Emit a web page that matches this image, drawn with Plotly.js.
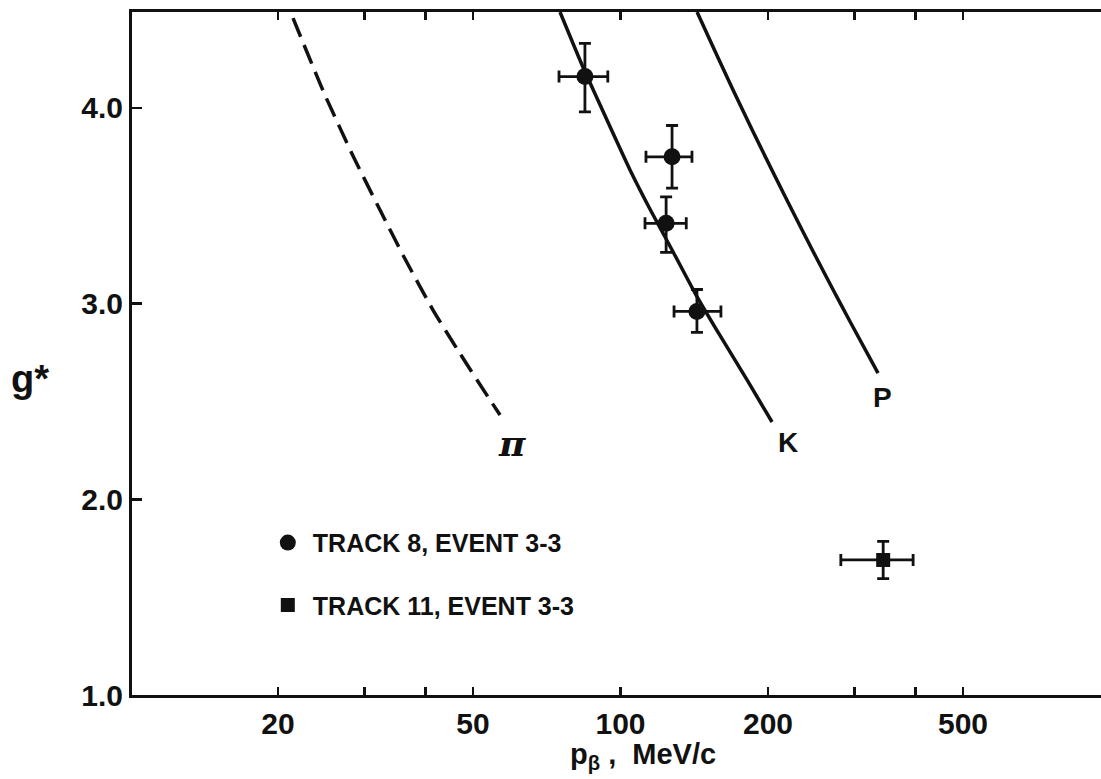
<!DOCTYPE html>
<html>
<head>
<meta charset="utf-8">
<script src="https://cdn.plot.ly/plotly-3.0.1.min.js"></script>
<style>html,body{margin:0;padding:0;background:#fff;}#chart{width:1101px;height:779px;}</style>
</head>
<body>
<div id="chart"></div>
<script>
// Theoretical curves (g* vs p_beta, MeV/c)
const piX = [21.46, 24.83, 28.52, 32.30, 36.15, 41.43, 46.94, 53.66, 56.77];
const piY = [4.459, 4.076, 3.749, 3.478, 3.238, 2.967, 2.748, 2.523, 2.431];
const kX = [75.25, 83.81, 93.84, 104.57, 115.39, 127.42, 141.91, 158.89, 181.22, 203.82];
const kY = [4.490, 4.209, 3.938, 3.683, 3.473, 3.274, 3.054, 2.845, 2.610, 2.395];
const pX = [143.3, 155.5, 169.7, 185.7, 205.1, 225.4, 246.3, 269.7, 295.1, 335.4];
const pY = [4.490, 4.296, 4.091, 3.887, 3.667, 3.463, 3.274, 3.085, 2.901, 2.645];

// Measured points
const track8X = [84.6, 127.4, 123.9, 143.2];
const track8Y = [4.16, 3.75, 3.41, 2.96];
const track8XErrPlus = [9.6, 12.5, 12.3, 17.1];
const track8XErrMinus = [9.7, 14.7, 11.7, 14.6];
const track8YErrPlus = [0.17, 0.16, 0.135, 0.112];
const track8YErrMinus = [0.18, 0.16, 0.148, 0.107];

const track11X = [343.6];
const track11Y = [1.69];
const track11XErrPlus = [51.9];
const track11XErrMinus = [62.0];
const track11YErrPlus = [0.095];
const track11YErrMinus = [0.095];

const seriesNames = ["TRACK 8, EVENT 3-3", "TRACK 11, EVENT 3-3"];

// Curve labels
const curveLabels = ["\u03c0", "K", "P"];
const curveLabelX = [60.1, 219.7, 341.8];
const curveLabelY = [2.288, 2.288, 2.518];

// Axis ticks
const xTickVals = [20, 30, 40, 50, 100, 200, 300, 400, 500];
const xTickText = ["20", "", "", "50", "100", "200", "", "", "500"];
const yTickVals = [1, 2, 3, 4];
const yTickText = ["1.0", "2.0", "3.0", "4.0"];

const FONT = "Liberation Sans, Arial, sans-serif";
const INK = "#111";

const curveLine = {color: INK, width: 3.5, shape: "spline", smoothing: 0.5};
const traces = [
  {x: piX, y: piY, mode: "lines", line: Object.assign({}, curveLine, {dash: "20px,9px"}), showlegend: false, hoverinfo: "skip"},
  {x: kX, y: kY, mode: "lines", line: curveLine, showlegend: false, hoverinfo: "skip"},
  {x: pX, y: pY, mode: "lines", line: curveLine, showlegend: false, hoverinfo: "skip"},
  {
    x: track8X, y: track8Y, mode: "markers", name: seriesNames[0], legendgroup: "a",
    marker: {symbol: "circle", size: 17, color: INK},
    error_x: {type: "data", symmetric: false, array: track8XErrPlus, arrayminus: track8XErrMinus, color: INK, thickness: 2.8, width: 6},
    error_y: {type: "data", symmetric: false, array: track8YErrPlus, arrayminus: track8YErrMinus, color: INK, thickness: 2.8, width: 6}
  },
  {
    x: track11X, y: track11Y, mode: "markers", name: seriesNames[1], legendgroup: "b",
    marker: {symbol: "square", size: 14, color: INK},
    error_x: {type: "data", symmetric: false, array: track11XErrPlus, arrayminus: track11XErrMinus, color: INK, thickness: 2.8, width: 6},
    error_y: {type: "data", symmetric: false, array: track11YErrPlus, arrayminus: track11YErrMinus, color: INK, thickness: 2.8, width: 6}
  }
];

const labelSizes = [36, 28, 28];
const annotations = curveLabels.map((t, i) => ({
  text: t, x: Math.log10(curveLabelX[i]), y: curveLabelY[i], xref: "x", yref: "y",
  xanchor: "center", yanchor: "middle",
  showarrow: false, font: {family: i === 0 ? "DejaVu Serif, serif" : FONT, size: labelSizes[i], color: INK, weight: "bold", style: i === 0 ? "italic" : "normal"}
}));
annotations.push({
  text: "g*", xref: "paper", yref: "paper", x: -0.1053, y: 0.463,
  xanchor: "center", yanchor: "middle",
  showarrow: false, font: {family: FONT, size: 38, color: INK, weight: "bold"}
});
annotations.push({
  text: "p<sub>\u03b2</sub> ,  MeV/c", xref: "paper", yref: "paper", x: 0.527, y: -0.119,
  xanchor: "center", yanchor: "bottom",
  showarrow: false, font: {family: FONT, size: 29, color: INK, weight: "bold"}
});

const layout = {
  width: 1101, height: 779,
  margin: {l: 132, r: 0, t: 12, b: 84},
  paper_bgcolor: "#fff", plot_bgcolor: "#fff",
  showlegend: true,
  legend: {
    x: 0.135, y: 0.2565, xanchor: "left", yanchor: "top",
    bgcolor: "rgba(0,0,0,0)", borderwidth: 0,
    traceorder: "grouped", tracegroupgap: 27, itemwidth: 40,
    font: {family: FONT, size: 25, color: INK, weight: "bold"}
  },
  xaxis: {
    type: "log", range: [1.003, 2.9806],
    tickvals: xTickVals, ticktext: xTickText,
    ticks: "inside", ticklen: 8, tickwidth: 2.5, tickcolor: INK,
    showline: true, linecolor: INK, linewidth: 3, mirror: "ticks",
    showgrid: false, zeroline: false,
    tickfont: {family: FONT, size: 30, color: INK, weight: "bold"}
  },
  yaxis: {
    range: [1, 4.49],
    tickvals: yTickVals, ticktext: yTickText,
    ticks: "inside", ticklen: 10, tickwidth: 2.5, tickcolor: INK,
    showline: true, linecolor: INK, linewidth: 3, mirror: false,
    showgrid: false, zeroline: false,
    tickfont: {family: FONT, size: 30, color: INK, weight: "bold"}
  },
  annotations: annotations
};

Plotly.newPlot("chart", traces, layout, {displayModeBar: false, staticPlot: true});
</script>
</body>
</html>
